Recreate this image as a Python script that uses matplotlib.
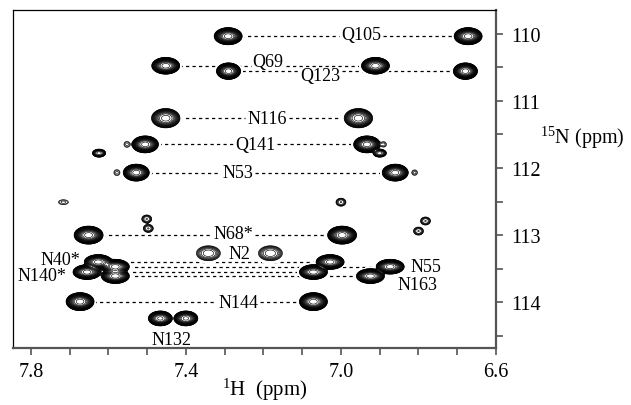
import numpy as np
import matplotlib.pyplot as plt
from matplotlib.ticker import FixedLocator

plt.rcParams['font.family'] = ['Liberation Serif', 'DejaVu Serif']
plt.rcParams['mathtext.default'] = 'regular'

# side-chain NH2 pairs: name, 1H shift of the two protons, 15N shift, peak height
pair_names = ['Q105', 'Q69', 'Q123', 'N116', 'Q141', 'N53', 'N68*',
              'N40*', 'N55', 'N140*', 'N163', 'N144', 'N2', 'N132']
pair_h1 = [7.291, 7.452, 7.290, 7.452, 7.505, 7.528, 7.651,
           7.626, 7.582, 7.655, 7.582, 7.673, 7.342, 7.466]
pair_h2 = [6.672, 6.911, 6.679, 6.955, 6.933, 6.860, 6.997,
           7.028, 6.873, 7.071, 6.924, 7.071, 7.182, 7.400]
pair_n = [110.04, 110.48, 110.56, 111.26, 111.65, 112.07, 113.00,
          113.40, 113.47, 113.55, 113.61, 113.99, 113.27, 114.24]
pair_amp = [60, 60, 60, 20, 60, 60, 60, 50, 50, 50, 50, 60, 4, 40]
# peak widths (ppm) in the 1H and 15N dimensions
pair_wh = [0.0226, 0.0226, 0.0195, 0.0255, 0.0214, 0.0210, 0.0234,
           0.0230, 0.0230, 0.0230, 0.0230, 0.0226, 0.0278, 0.0200]
pair_wn = [0.080, 0.078, 0.077, 0.100, 0.079, 0.079, 0.084,
           0.070, 0.070, 0.070, 0.070, 0.084, 0.100, 0.072]
# pairs joined by a dashed line
pair_linked = [True] * 12 + [False, False]

# weak, unassigned cross peaks
extra_h = [7.624, 6.900, 7.552, 6.890, 7.578, 6.810, 7.716, 7.000,
           7.501, 7.497, 6.782, 6.800]
extra_n = [111.78, 111.78, 111.65, 111.65, 112.07, 112.07, 112.51, 112.51,
           112.76, 112.90, 112.79, 112.94]
extra_amp = [8, 8, 1.5, 1.5, 1.5, 1.5, 1.5, 3, 3, 3, 3, 3]
extra_wh = [0.0135, 0.0135, 0.0105, 0.0100, 0.0105, 0.0100, 0.0174, 0.0125,
            0.0125, 0.0125, 0.0125, 0.0125]
extra_wn = [0.047, 0.047, 0.060, 0.055, 0.060, 0.055, 0.050, 0.058,
            0.058, 0.058, 0.058, 0.058]

# label placement (ppm) and alignment
label_h = [6.948, 7.188, 7.053, 7.191, 7.221, 7.266, 7.278,
           7.673, 6.821, 7.707, 6.854, 7.265, 7.262, 7.436]
label_n = [110.01, 110.41, 110.63, 111.26, 111.65, 112.07, 112.98,
           113.37, 113.46, 113.60, 113.73, 114.00, 113.27, 114.55]
label_ha = ['center'] * 7 + ['right', 'left', 'right', 'left'] + ['center'] * 3
label_split = [True] * 7 + [False] * 4 + [True, False, False]

x_major = [7.8, 7.4, 7.0, 6.6]
y_major = [110, 111, 112, 113, 114]

# build the spectrum from the peak list (flat-topped line shape)
all_h = np.array(pair_h1 + pair_h2 + extra_h)
all_n = np.array(pair_n + pair_n + extra_n)
all_a = np.array(pair_amp + pair_amp + extra_amp, dtype=float)
all_wh = np.array(pair_wh + pair_wh + extra_wh)
all_wn = np.array(pair_wn + pair_wn + extra_wn)

hx = np.linspace(6.6, 7.846, 1400)
ny = np.linspace(109.65, 114.68, 1000)
H, N = np.meshgrid(hx, ny)
spec = np.zeros_like(H)
for h, n, a, wh, wn in zip(all_h, all_n, all_a, all_wh, all_wn):
    r = np.sqrt(((H - h) / wh) ** 2 + ((N - n) / wn) ** 2)
    spec += a * np.exp(-r ** 3)

levels = 1.2 ** np.arange(0, 25)

fig = plt.figure(figsize=(6.31, 4.06), dpi=100)
ax = fig.add_axes([0.0206, 0.1404, 0.7655, 0.8325])

# white mask under the peaks so the dashed lines stop short of the peak edge
ax.contourf(H, N, spec, levels=[0.15, 1e6], colors='white', zorder=2)
ax.contour(H, N, spec, levels=levels, colors='black', linewidths=0.45, zorder=3)

ax.set_xlim(7.846, 6.6)
ax.set_ylim(114.68, 109.65)

texts = []
for i, name in enumerate(pair_names):
    t = ax.text(label_h[i], label_n[i], name, ha=label_ha[i], va='center',
                fontsize=13, zorder=4)
    texts.append(t)

fig.canvas.draw()
inv = ax.transData.inverted()
for i in range(len(pair_names)):
    if not pair_linked[i]:
        continue
    y = pair_n[i]
    if label_split[i]:
        bb = texts[i].get_window_extent()
        xa = inv.transform((bb.x0 - 2, 0))[0]
        xb = inv.transform((bb.x1 + 2, 0))[0]
        segs = [(pair_h1[i], xa), (xb, pair_h2[i])]
    else:
        segs = [(pair_h1[i], pair_h2[i])]
    for x0, x1 in segs:
        ax.plot([x0, x1], [y, y], color='black', lw=0.9,
                linestyle=(0, (2.6, 2.6)), zorder=1)

# axes and ticks
ax.yaxis.tick_right()
ax.xaxis.set_major_locator(FixedLocator(x_major))
ax.xaxis.set_minor_locator(FixedLocator(np.arange(66, 79) / 10))
ax.yaxis.set_major_locator(FixedLocator(y_major))
ax.yaxis.set_minor_locator(FixedLocator(np.arange(110, 115) + 0.5))
ax.xaxis.set_major_formatter(plt.FormatStrFormatter('%.1f'))
ax.tick_params(which='both', direction='out', length=5, width=1.2,
               color='#555555', labelsize=14.5)
ax.tick_params(axis='y', pad=6)
ax.tick_params(axis='x', pad=5)
for side in ['right', 'bottom']:
    ax.spines[side].set_linewidth(1.6)
    ax.spines[side].set_color('#555555')
for side in ['left', 'top']:
    ax.spines[side].set_linewidth(0.9)

ax.set_xlabel('$^{1}$H  (ppm)', fontsize=15, va='baseline')
ax.xaxis.set_label_coords(0.522, -0.137)
ax.text(1.091, 0.624, '$^{15}$N (ppm)', transform=ax.transAxes,
        ha='left', va='center', fontsize=14.5)

fig.savefig('out.png', dpi=100)
plt.close()
